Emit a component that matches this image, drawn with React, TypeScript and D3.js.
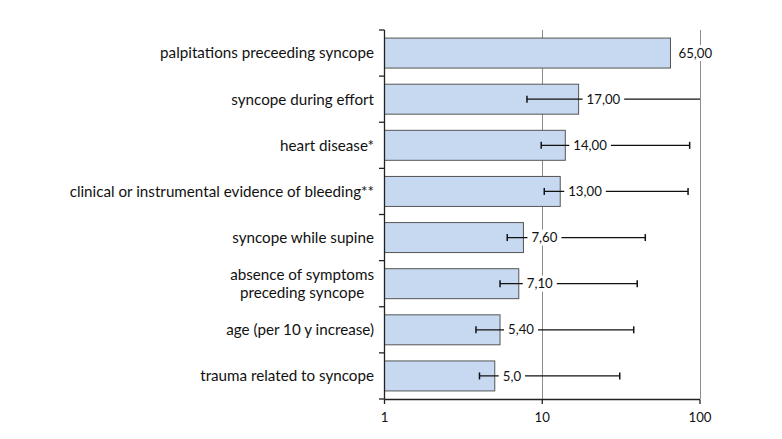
import React, { useEffect, useRef } from "react";
import * as d3 from "d3";

const categories = [
  "palpitations preceeding syncope",
  "syncope during effort",
  "heart disease*",
  "clinical or instrumental evidence of bleeding**",
  "syncope while supine",
  "absence of symptoms\npreceding syncope",
  "age (per 10 y increase)",
  "trauma related to syncope",
];
const oddsRatios = [65, 17, 14, 13, 7.6, 7.1, 5.4, 5.0];
const valueLabels = ["65,00", "17,00", "14,00", "13,00", "7,60", "7,10", "5,40", "5,0"];
const ciLower: (number | null)[] = [null, 8.0, 9.85, 10.3, 6.0, 5.4, 3.8, 4.0];
const ciUpper: (number | null)[] = [null, 100, 86, 84, 45, 40, 38, 31];
const xTicks = [1, 10, 100];

const W = 782;
const H = 439;
const FONT = "Lato, 'Open Sans', sans-serif";
const FS_CAT = 15.2;
const FS_VAL = 13.2;

export default function App() {
  const ref = useRef<SVGSVGElement>(null);

  useEffect(() => {
    const svg = d3.select(ref.current);
    svg.selectAll("*").remove();

    const x = d3.scaleLog().domain([1, 100]).range([384.5, 700]);
    const y = d3
      .scaleBand<string>()
      .domain(categories)
      .range([30, 399])
      .paddingInner(0.35)
      .paddingOuter(0.175);
    const step = y.step();
    const bw = y.bandwidth();
    const [xMin, xMax] = x.domain();

    const g = svg.append("g");

    // gridlines
    g.selectAll("line.grid")
      .data(xTicks.filter((t) => t > xMin))
      .join("line")
      .attr("x1", (d) => Math.round(x(d)) + 0.5)
      .attr("x2", (d) => Math.round(x(d)) + 0.5)
      .attr("y1", 30)
      .attr("y2", 399)
      .attr("stroke", "#8c8c8c")
      .attr("stroke-width", 1);

    // bars
    g.selectAll("rect.bar")
      .data(categories)
      .join("rect")
      .attr("x", x(1))
      .attr("y", (d) => y(d)!)
      .attr("width", (d, i) => x(oddsRatios[i]) - x(1))
      .attr("height", bw)
      .attr("fill", "#c6d9f1")
      .attr("stroke", "#555")
      .attr("stroke-width", 1);

    // error bars
    categories.forEach((c, i) => {
      const lo = ciLower[i];
      const hi = ciUpper[i];
      if (lo == null || hi == null) return;
      const cy = y(c)! + bw / 2;
      const hiC = Math.min(hi, xMax);
      g.append("line")
        .attr("x1", x(lo))
        .attr("x2", x(hiC))
        .attr("y1", cy)
        .attr("y2", cy)
        .attr("stroke", "#111")
        .attr("stroke-width", 1.3);
      const caps = [lo];
      if (hi < xMax) caps.push(hi);
      caps.forEach((v) => {
        g.append("line")
          .attr("x1", x(v))
          .attr("x2", x(v))
          .attr("y1", cy - 3.5)
          .attr("y2", cy + 3.5)
          .attr("stroke", "#111")
          .attr("stroke-width", 1.5);
      });
    });

    // value labels
    categories.forEach((c, i) => {
      const cy = y(c)! + bw / 2;
      const tx = x(oddsRatios[i]) + 8;
      const bg = g.append("rect").attr("fill", "#fff");
      const t = g
        .append("text")
        .attr("x", tx)
        .attr("y", cy)
        .attr("dy", "0.35em")
        .attr("font-family", FONT)
        .attr("font-size", FS_VAL)
        .attr("fill", "#111")
        .text(valueLabels[i]);
      const w = (t.node() as SVGTextElement).getComputedTextLength();
      bg.attr("x", tx - 4)
        .attr("y", cy - 8)
        .attr("width", w + 8)
        .attr("height", 16);
    });

    // y axis
    g.append("line")
      .attr("x1", 384.5)
      .attr("x2", 384.5)
      .attr("y1", 30)
      .attr("y2", 399.5)
      .attr("stroke", "#222")
      .attr("stroke-width", 1.3);
    d3.range(categories.length + 1).forEach((k) => {
      const yy = 30 + k * step;
      g.append("line")
        .attr("x1", 379)
        .attr("x2", 384.5)
        .attr("y1", yy)
        .attr("y2", yy)
        .attr("stroke", "#222")
        .attr("stroke-width", 1.3);
    });

    // x axis
    g.append("line")
      .attr("x1", 384.5)
      .attr("x2", x(xMax))
      .attr("y1", 399.5)
      .attr("y2", 399.5)
      .attr("stroke", "#222")
      .attr("stroke-width", 1.3);
    xTicks.forEach((t) => {
      g.append("line")
        .attr("x1", x(t))
        .attr("x2", x(t))
        .attr("y1", 399.5)
        .attr("y2", 404)
        .attr("stroke", "#222")
        .attr("stroke-width", 1.3);
      g.append("text")
        .attr("x", x(t))
        .attr("y", 417)
        .attr("dy", "0.35em")
        .attr("text-anchor", "middle")
        .attr("font-family", FONT)
        .attr("font-size", FS_VAL)
        .attr("fill", "#111")
        .text(String(t));
    });

    // category labels
    categories.forEach((c) => {
      const lines = c.split("\n");
      const cy = y(c)! + bw / 2;
      const lh = 18;
      const texts = lines.map((ln, j) =>
        g
          .append("text")
          .attr("y", cy + (j - (lines.length - 1) / 2) * lh)
          .attr("dy", "0.35em")
          .attr("font-family", FONT)
          .attr("font-size", FS_CAT)
          .attr("fill", "#111")
          .text(ln)
      );
      const widths = texts.map((t) => (t.node() as SVGTextElement).getComputedTextLength());
      const maxW = Math.max(...widths);
      const center = 374 - maxW / 2;
      texts.forEach((t) => t.attr("x", center).attr("text-anchor", "middle"));
    });
  }, []);

  return (
    <svg
      ref={ref}
      width={W}
      height={H}
      style={{ position: "absolute", left: 0, top: 0, background: "#fff" }}
    />
  );
}
